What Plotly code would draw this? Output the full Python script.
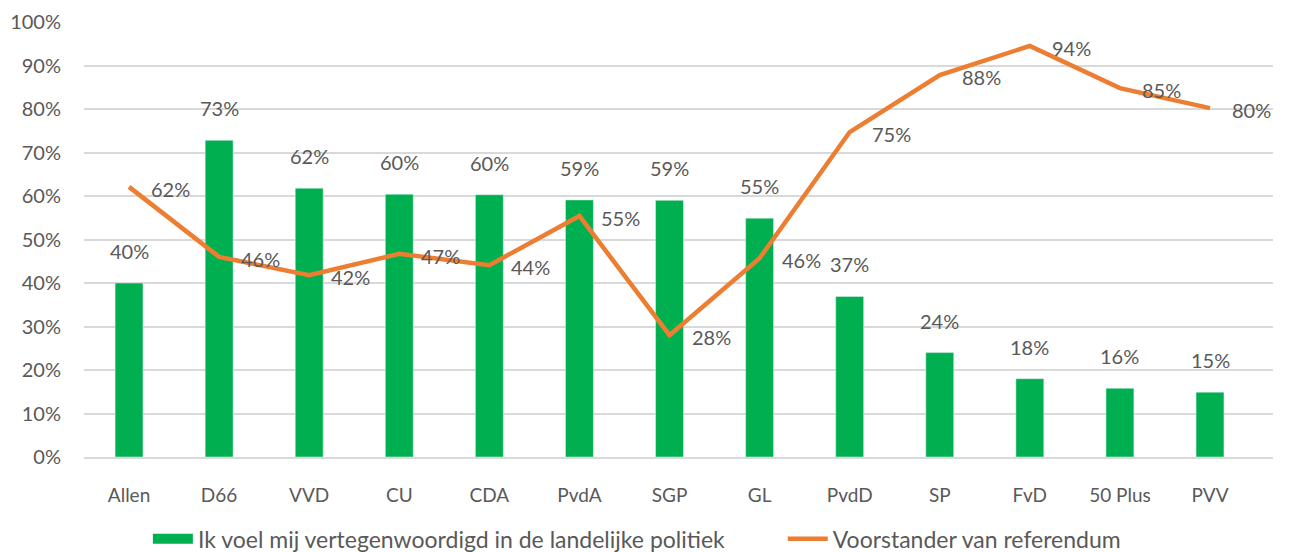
import plotly.graph_objects as go

parties = ['Allen', 'D66', 'VVD', 'CU', 'CDA', 'PvdA', 'SGP', 'GL', 'PvdD', 'SP', 'FvD', '50 Plus', 'PVV']
vertegenwoordigd = [40.0, 72.8, 61.8, 60.4, 60.3, 59.1, 59.0, 54.9, 36.9, 24.0, 18.0, 15.8, 14.9]
voorstander = [62.1, 46.0, 41.8, 46.7, 44.1, 55.4, 28.0, 45.7, 74.7, 87.8, 94.5, 84.8, 80.2]

bar_name = 'Ik voel mij vertegenwoordigd in de landelijke politiek'
line_name = 'Voorstander van referendum'

font = 'Lato, Calibri, Arial'
grey = '#595959'
green = '#00B050'
orange = '#ED7D31'

fig = go.Figure()
fig.add_trace(go.Bar(x=parties, y=vertegenwoordigd, name=bar_name,
                     marker_color=green, width=0.31, showlegend=False))
# legenda-item met een breed groen blokje, zoals in Excel
fig.add_trace(go.Scatter(x=[None], y=[None], mode='lines', name=bar_name + '         ',
                         line=dict(color=green, width=11)))
fig.add_trace(go.Scatter(x=parties, y=voorstander, name=line_name, mode='lines',
                         line=dict(color=orange, width=4.5)))

# labels boven de staven en rechts van de lijnpunten
for p, v in zip(parties, vertegenwoordigd):
    fig.add_annotation(x=p, y=v, text=f'{round(v)}%', showarrow=False,
                       yanchor='bottom', yshift=18, font=dict(size=20, color=grey, family=font))
for p, v in zip(parties, voorstander):
    fig.add_annotation(x=p, y=v, text=f'{round(v)}%', showarrow=False,
                       xanchor='left', xshift=20, yshift=-2, font=dict(size=20, color=grey, family=font))

fig.update_layout(
    width=1306, height=552,
    margin=dict(l=84, r=33, t=22, b=95),
    plot_bgcolor='white', paper_bgcolor='white',
    font=dict(family=font, size=20, color=grey),
    showlegend=True,
    legend=dict(orientation='h', x=0.465, xanchor='center', yref='container', y=0.024,
                yanchor='middle', font=dict(size=23, color=grey), itemwidth=40, tracegroupgap=0),
    bargap=0.69,
)
fig.update_xaxes(showline=True, linecolor='#D9D9D9', linewidth=1.5, ticks='', automargin=False,
                 ticklabelstandoff=20, tickfont=dict(size=19, color=grey))
fig.update_yaxes(range=[0, 100], dtick=10, ticksuffix='%', showgrid=True, automargin=False,
                 gridcolor='#D9D9D9', gridwidth=1.5, zeroline=False,
                 ticklabelstandoff=22, tickfont=dict(size=20, color=grey))

fig.write_html('out.html', config={'displayModeBar': False},
               post_script="document.body.style.margin='0';")
